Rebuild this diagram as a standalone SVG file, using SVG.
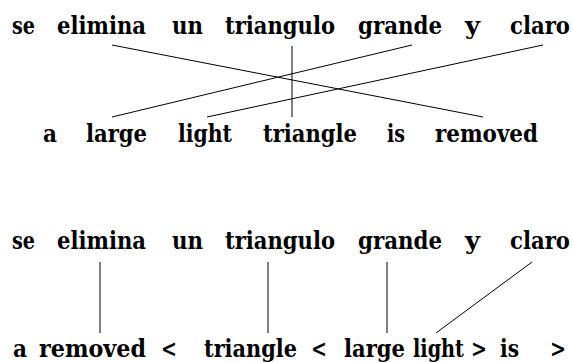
<svg xmlns="http://www.w3.org/2000/svg" width="573" height="362" viewBox="0 0 573 362">
<style>
text{font-family:"DejaVu Serif","Liberation Serif","Times New Roman",serif;font-weight:bold;font-size:25px;fill:#000}
.c line{stroke:#000;stroke-width:1}
</style>
<rect width="573" height="362" fill="#fff"/>
<g id="top-source">
<text x="12" y="34" textLength="23" lengthAdjust="spacingAndGlyphs">se</text>
<text x="57" y="34" textLength="89" lengthAdjust="spacingAndGlyphs">elimina</text>
<text x="172" y="34" textLength="31" lengthAdjust="spacingAndGlyphs">un</text>
<text x="225" y="34" textLength="110" lengthAdjust="spacingAndGlyphs">triangulo</text>
<text x="358" y="34" textLength="84" lengthAdjust="spacingAndGlyphs">grande</text>
<text x="465" y="34" textLength="15" lengthAdjust="spacingAndGlyphs">y</text>
<text x="510" y="34" textLength="60" lengthAdjust="spacingAndGlyphs">claro</text>
</g>
<g id="top-target">
<text x="43" y="142" textLength="14" lengthAdjust="spacingAndGlyphs">a</text>
<text x="86" y="142" textLength="61" lengthAdjust="spacingAndGlyphs">large</text>
<text x="178" y="142" textLength="54" lengthAdjust="spacingAndGlyphs">light</text>
<text x="263" y="142" textLength="94" lengthAdjust="spacingAndGlyphs">triangle</text>
<text x="387" y="142" textLength="18" lengthAdjust="spacingAndGlyphs">is</text>
<text x="435" y="142" textLength="103" lengthAdjust="spacingAndGlyphs">removed</text>
</g>
<g id="bottom-source">
<text x="12" y="249" textLength="23" lengthAdjust="spacingAndGlyphs">se</text>
<text x="57" y="249" textLength="89" lengthAdjust="spacingAndGlyphs">elimina</text>
<text x="172" y="249" textLength="31" lengthAdjust="spacingAndGlyphs">un</text>
<text x="225" y="249" textLength="110" lengthAdjust="spacingAndGlyphs">triangulo</text>
<text x="358" y="249" textLength="84" lengthAdjust="spacingAndGlyphs">grande</text>
<text x="465" y="249" textLength="15" lengthAdjust="spacingAndGlyphs">y</text>
<text x="510" y="249" textLength="60" lengthAdjust="spacingAndGlyphs">claro</text>
</g>
<g id="bottom-target">
<text x="13" y="357" textLength="14" lengthAdjust="spacingAndGlyphs">a</text>
<text x="39" y="357" textLength="107" lengthAdjust="spacingAndGlyphs">removed</text>
<text x="161" y="357" textLength="16" lengthAdjust="spacingAndGlyphs">&lt;</text>
<text x="204" y="357" textLength="93" lengthAdjust="spacingAndGlyphs">triangle</text>
<text x="311" y="357" textLength="16" lengthAdjust="spacingAndGlyphs">&lt;</text>
<text x="344" y="357" textLength="61" lengthAdjust="spacingAndGlyphs">large</text>
<text x="413" y="357" textLength="51" lengthAdjust="spacingAndGlyphs">light</text>
<text x="471" y="357" textLength="16" lengthAdjust="spacingAndGlyphs">&gt;</text>
<text x="500" y="357" textLength="19" lengthAdjust="spacingAndGlyphs">is</text>
<text x="550" y="357" textLength="16" lengthAdjust="spacingAndGlyphs">&gt;</text>
</g>
<g id="connectors" class="c">
<line x1="112" y1="45" x2="483" y2="117"/>
<line x1="292" y1="46" x2="292" y2="117"/>
<line x1="412" y1="45" x2="112" y2="117"/>
<line x1="543" y1="45" x2="207" y2="117"/>
<line x1="100" y1="262" x2="100" y2="333"/>
<line x1="268" y1="262" x2="268" y2="333"/>
<line x1="387" y1="262" x2="387" y2="333"/>
<line x1="532" y1="262" x2="436" y2="333"/>
</g>
</svg>
